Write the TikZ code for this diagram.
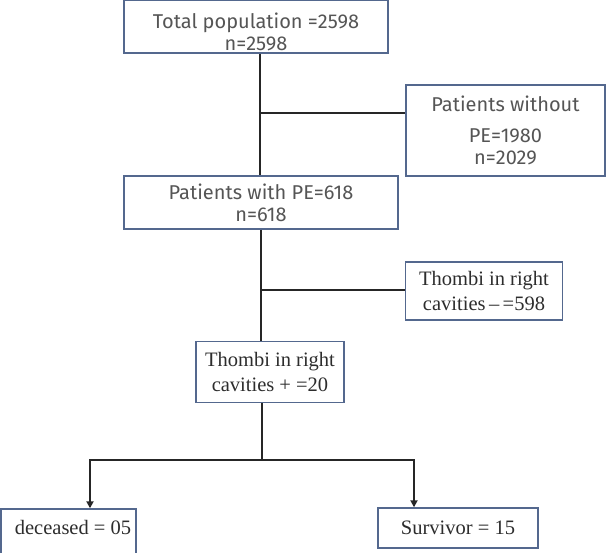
\documentclass[tikz,border=0pt]{standalone}
\usepackage{fontspec}
\setmainfont{Liberation Serif}
\newfontfamily\sansf{Fira Sans}
\usetikzlibrary{arrows.meta,calc}
\definecolor{boxc}{RGB}{84,104,142}
\definecolor{stxt}{RGB}{85,85,85}
\definecolor{rtxt}{RGB}{45,45,45}
\begin{document}
\begin{tikzpicture}[x=1pt,y=-1pt,
  box/.style={draw=boxc,line width=1.4pt,rectangle,inner sep=0pt,align=center},
  sfont/.style={font=\sansf\fontsize{20}{22}\selectfont,text=stxt,align=center,inner sep=0pt},
  rfont/.style={font=\fontsize{20.5}{25}\selectfont,text=rtxt,align=center,inner sep=0pt},
  sbox/.style={box,sfont},
  rbox/.style={box,rfont},
  conn/.style={line width=1.8pt,black!85},
  arr/.style={conn,-{Triangle[width=7pt,length=7pt]}}]
\useasboundingbox (0,0) rectangle (606,553);
\node[box,minimum width=264pt,minimum height=53pt] (b1) at (256,26.5) {};
\node[sfont] (t1) at (256,32) {Total population =2598\\n=2598};
\node[sbox,minimum width=199pt,minimum height=91pt] (b2) at (505.5,130.5) {Patients without\\[9pt]PE=1980\\n=2029};
\node[sbox,minimum width=274pt,minimum height=53pt] (b3) at (261,202.5) {Patients with PE=618\\n=618};
\node[rbox,minimum width=157pt,minimum height=58pt] (b4) at (484,291) {Thombi in right\\cavities\,--\,=598};
\node[rbox,minimum width=148pt,minimum height=61pt] (b5) at (270,372) {Thombi in right\\cavities + =20};
\node[box,minimum width=135pt,minimum height=56pt] (b6) at (68.5,537) {};
\node[rfont] (t6) at (73,527) {deceased = 05};
\node[rbox,minimum width=160pt,minimum height=40pt] (b7) at (458,528) {Survivor = 15};
\coordinate (v1) at (260,0);
\coordinate (v2) at (261,0);
\coordinate (v3) at (262,0);
\coordinate (j1) at (260,113);
\coordinate (j2) at (261,290);
\coordinate (j3) at (262,460);
\coordinate (l6) at (90,460);
\coordinate (l7) at (414,460);
\draw[conn] (b1.south -| v1) -- (b3.north -| v1);
\draw[conn] (j1) -- (j1 -| b2.west);
\draw[conn] (b3.south -| v2) -- (b5.north -| v2);
\draw[conn] (j2) -- (j2 -| b4.west);
\draw[conn] (b5.south -| v3) -- (j3);
\draw[arr] (j3) -- (l6) -- (b6.north -| l6);
\draw[arr] (j3) -- (l7) -- (b7.north -| l7);
\end{tikzpicture}
\end{document}
